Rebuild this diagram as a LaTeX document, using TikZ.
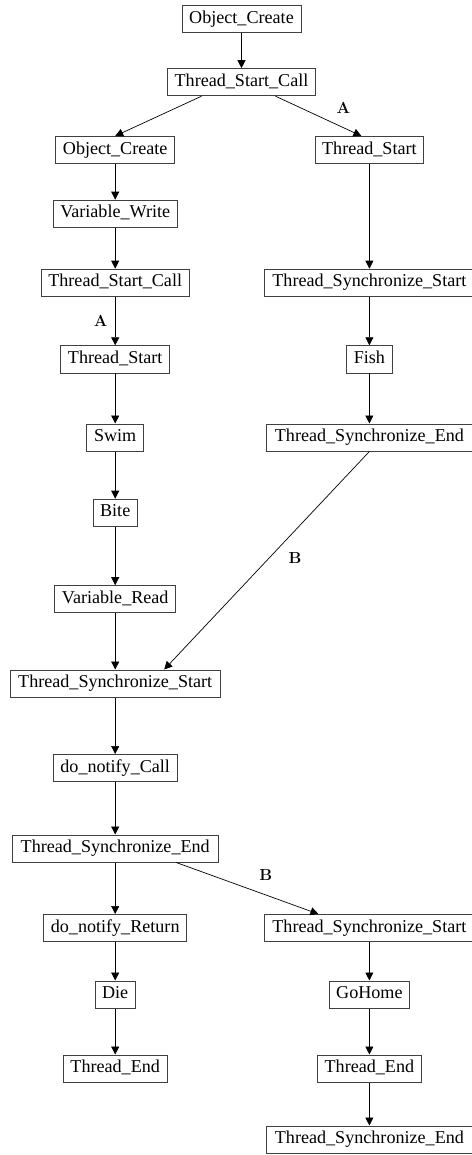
\documentclass[tikz,border=0pt]{standalone}
\usepackage{fontspec}
\setmainfont{Liberation Serif}
\newfontfamily\tagfont{Latin Modern Roman}
\usetikzlibrary{arrows.meta}

\begin{document}
\begin{tikzpicture}[x=1pt, y=-1pt, >={Triangle[length=8pt,width=8pt]},
    every node/.style={font=\fontsize{18.1}{20}\selectfont},
    box/.style={draw=black!75, line width=0.8pt, inner xsep=7.2pt, inner ysep=5.1pt,
        text height=12.6pt, text depth=4.4pt},
    syncstart/.style={box, minimum width=209.5pt},
    syncend/.style={box, minimum width=206.5pt},
    tag/.style={font=\fontsize{16}{18}\tagfont\bfseries}]
    \useasboundingbox (0,0) rectangle (471,1155);

    % top
    \node[box](oc0) at (241.5,19.3) {Object\_Create};
    \node[box](tsc0) at (241.5,82.2) {Thread\_Start\_Call};

    % left column
    \foreach \n/\y/\s/\t in {oc1/150/box/Object\_Create, vw/213.7/box/Variable\_Write,
        tsc1/282.7/box/Thread\_Start\_Call, ts2/359.3/box/Thread\_Start, swim/437.5/box/Swim,
        bite/512.7/box/Bite, vr/599.2/box/Variable\_Read,
        tss2/683.5/syncstart/Thread\_Synchronize\_Start,
        dnc/768/box/do\_notify\_Call, tse2/848.5/syncend/Thread\_Synchronize\_End,
        dnr/928/box/do\_notify\_Return, die/994.5/box/Die, te1/1068.5/box/Thread\_End}
    {\node[\s](\n) at (115.2,\y) {\t};}

    % right column
    \foreach \n/\y/\s/\t in {ts1/150/box/Thread\_Start,
        tss1/282.7/syncstart/Thread\_Synchronize\_Start,
        fish/359.3/box/Fish, tse1/437.5/syncend/Thread\_Synchronize\_End,
        tss3/928/syncstart/Thread\_Synchronize\_Start, gohome/994.5/box/GoHome,
        te2/1068.5/box/Thread\_End, tse3/1139.5/syncend/Thread\_Synchronize\_End}
    {\node[\s](\n) at (369.4,\y) {\t};}

    % straight edges
    \foreach \a/\b in {oc0/tsc0, oc1/vw, vw/tsc1, tsc1/ts2, ts2/swim, swim/bite,
        bite/vr, vr/tss2, tss2/dnc, dnc/tse2, tse2/dnr, dnr/die, die/te1,
        ts1/tss1, tss1/fish, fish/tse1, tss3/gohome, gohome/te2, te2/tse3}
    {\draw[->, line width=0.7pt] (\a)--(\b);}

    % cross edges
    \draw[->, line width=0.7pt] ([xshift=-40pt]tsc0.south)--(oc1.north);
    \draw[->, line width=0.7pt] ([xshift=34pt]tsc0.south)--([xshift=-8pt]ts1.north);
    \draw[->, line width=0.7pt] (tse1.south)--([xshift=49pt]tss2.north);
    \draw[->, line width=0.7pt] ([xshift=61pt]tse2.south)--([xshift=-51pt]tss3.north);

    % labels
    \node[tag](la1) at (343.3,107.7) {A};
    \node[tag](la2) at (100.7,320.7) {A};
    \node[tag](lb1) at (295,557.7) {B};
    \node[tag](lb2) at (265.7,875) {B};
\end{tikzpicture}
\end{document}
